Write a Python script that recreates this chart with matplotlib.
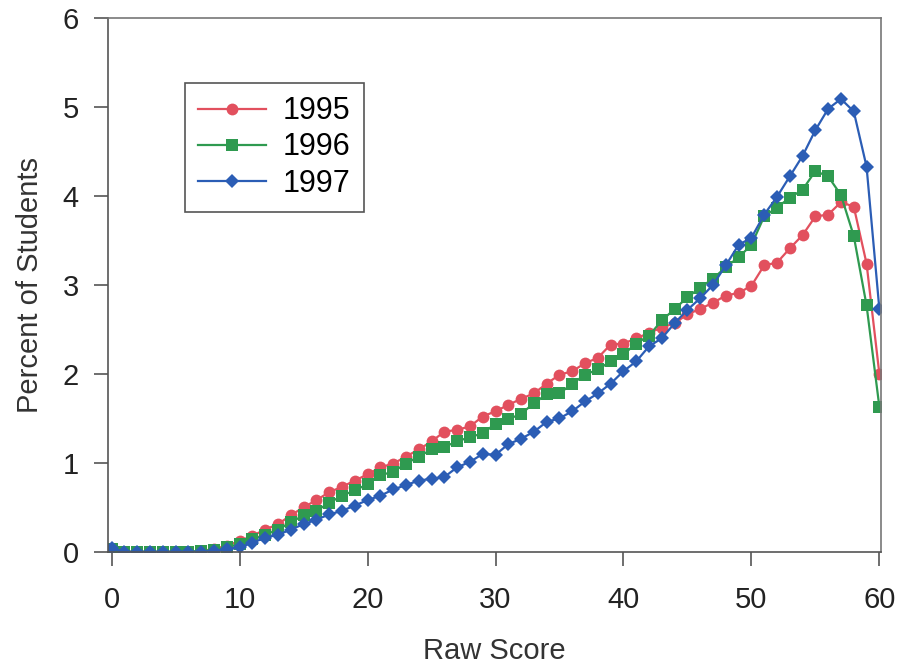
import matplotlib
matplotlib.use("Agg")
import matplotlib.pyplot as plt
import numpy as np

# raw scores 0..60, percent of students per score
scores = np.arange(0, 61)

pct_1995 = [0.03, 0, 0, 0, 0, 0, 0, 0.01, 0.03, 0.07,
            0.12, 0.18, 0.25, 0.31, 0.41, 0.50, 0.58, 0.67, 0.73, 0.80,
            0.87, 0.95, 0.99, 1.07, 1.15, 1.24, 1.35, 1.37, 1.41, 1.52,
            1.58, 1.65, 1.72, 1.78, 1.89, 1.99, 2.03, 2.12, 2.18, 2.33,
            2.34, 2.40, 2.46, 2.52, 2.57, 2.67, 2.73, 2.80, 2.88, 2.91,
            2.99, 3.22, 3.25, 3.41, 3.56, 3.77, 3.79, 3.93, 3.88, 3.24, 2.00]

pct_1996 = [0.03, 0, 0, 0, 0, 0, 0, 0.01, 0.02, 0.05,
            0.09, 0.14, 0.19, 0.25, 0.33, 0.41, 0.46, 0.55, 0.63, 0.69,
            0.76, 0.86, 0.90, 0.99, 1.07, 1.15, 1.18, 1.24, 1.29, 1.33,
            1.44, 1.49, 1.55, 1.67, 1.77, 1.78, 1.89, 1.99, 2.05, 2.14,
            2.22, 2.34, 2.43, 2.60, 2.73, 2.86, 2.97, 3.07, 3.20, 3.31,
            3.45, 3.77, 3.87, 3.98, 4.07, 4.28, 4.22, 4.01, 3.55, 2.77, 1.63]

pct_1997 = [0.04, 0, 0, 0, 0, 0, 0, 0, 0.01, 0.03,
            0.05, 0.10, 0.16, 0.19, 0.25, 0.31, 0.36, 0.42, 0.46, 0.52,
            0.58, 0.63, 0.70, 0.75, 0.80, 0.82, 0.84, 0.95, 1.01, 1.10,
            1.09, 1.21, 1.27, 1.35, 1.46, 1.50, 1.58, 1.69, 1.78, 1.89,
            2.03, 2.14, 2.31, 2.40, 2.57, 2.72, 2.85, 3.00, 3.22, 3.45,
            3.53, 3.79, 3.99, 4.22, 4.45, 4.74, 4.98, 5.09, 4.95, 4.33, 2.73]

plt.rcParams['font.family'] = ['Liberation Sans', 'DejaVu Sans']

fig = plt.figure(figsize=(9.06, 6.68), dpi=100)
ax = fig.add_axes([0.119, 0.174, 0.853, 0.799])

# series: label, values, colour, marker, size
series = [
    ("1995", pct_1995, "#e2505e", "o", 8.5),
    ("1996", pct_1996, "#2f9a50", "s", 8),
    ("1997", pct_1997, "#2b5db5", "D", 7.5),
]
for label, vals, col, mk, ms in series:
    ax.plot(scores, vals, color=col, marker=mk, markersize=ms,
            linewidth=1.6, label=label, markeredgewidth=0)

ax.set_xlim(-0.3, 60.1)
ax.set_ylim(0, 6)
ax.set_xticks(np.arange(0, 61, 10))
ax.set_yticks(np.arange(0, 7, 1))
ax.tick_params(axis='both', labelsize=21, direction='out', length=10,
               width=1.2, color='#555555', labelcolor='#222222')
ax.tick_params(axis='x', pad=15)
ax.tick_params(axis='y', pad=11)

for sp in ax.spines.values():
    sp.set_color('#777777')
    sp.set_linewidth(1.2)
ax.spines['left'].set_color('#555555')
ax.spines['bottom'].set_color('#555555')

ax.set_xlabel("Raw Score", fontsize=21, labelpad=16, color='#333333')
ax.set_ylabel("Percent of Students", fontsize=21, labelpad=13, color='#333333')

leg = ax.legend(loc='upper left', bbox_to_anchor=(0.0994, 0.879), fontsize=22,
                fancybox=False, framealpha=1, edgecolor='#555555',
                handlelength=2.2, borderpad=0.45, labelspacing=0.2,
                handletextpad=0.55, borderaxespad=0)
leg.get_frame().set_linewidth(1.2)

fig.savefig("out.png", dpi=100)
